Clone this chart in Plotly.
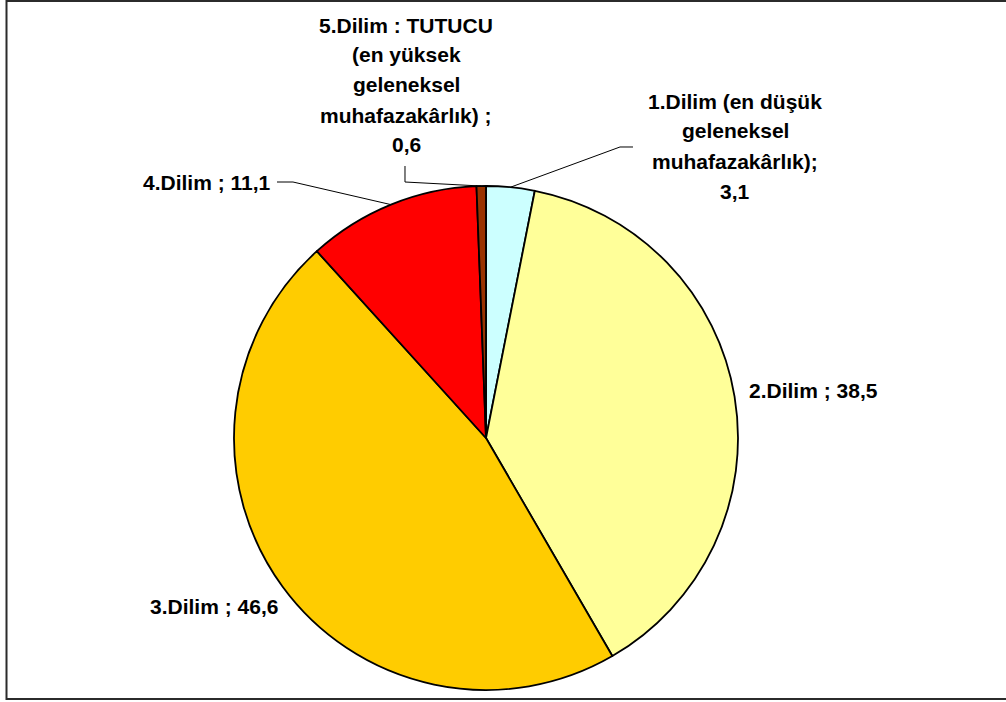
import math
import plotly.graph_objects as go

# Shares of each slice (percent), clockwise from 12 o'clock
slices = ["1.Dilim", "2.Dilim", "3.Dilim", "4.Dilim", "5.Dilim"]
values = [3.1, 38.5, 46.6, 11.1, 0.6]
colors = ["#CCFFFF", "#FFFF99", "#FFCC00", "#FF0000", "#993300"]

# Label text lines for each slice
label_lines = [
    ["1.Dilim (en düşük", "geleneksel", "muhafazakârlık);", "3,1"],
    ["2.Dilim ; 38,5"],
    ["3.Dilim ; 46,6"],
    ["4.Dilim ; 11,1"],
    ["5.Dilim : TUTUCU", "(en yüksek", "geleneksel", "muhafazakârlık) ;", "0,6"],
]

W, H = 1006, 702
CX, CY, R = 486, 438, 252          # pie centre and radius in pixels
FONT = "Liberation Sans, Arial, sans-serif"
LINE_STEP = 30                      # pixels between label lines


def px(x):
    return x / W


def py(y):
    return 1 - y / H


fig = go.Figure(
    go.Pie(
        labels=slices,
        values=values,
        sort=False,
        direction="clockwise",
        rotation=0,
        textinfo="none",
        hoverinfo="label+value",
        marker=dict(colors=colors, line=dict(color="black", width=1.8)),
        domain=dict(x=[px(CX - R), px(CX + R)], y=[py(CY + R), py(CY - R)]),
        showlegend=False,
    )
)

# Mid-angle of each slice, measured clockwise from the top
total = sum(values)
mid_angle = []
acc = 0.0
for v in values:
    mid_angle.append(2 * math.pi * (acc + v / 2) / total)
    acc += v


def rim_point(i):
    a = mid_angle[i]
    return CX + R * math.sin(a), CY - R * math.cos(a)


# Label placement: (x, y of first line, x-anchor)
label_pos = {
    0: (735, 101, "center"),
    1: (747, 391, "left"),
    2: (148, 606, "left"),
    3: (273, 183, "right"),
    4: (406, 25, "center"),
}

annotations = []
for i, lines in enumerate(label_lines):
    lx, ly, anchor = label_pos[i]
    for k, t in enumerate(lines):
        annotations.append(
            dict(
                x=px(lx), y=py(ly + k * LINE_STEP), xref="paper", yref="paper",
                text=f"<b>{t}</b>", showarrow=False, xanchor=anchor, yanchor="middle",
                font=dict(family=FONT, size=21, color="black"),
            )
        )

# Leader lines: bend points for slices 1, 4 and 5
leader_bends = {
    0: [(620, 147), (633, 147)],
    3: [(293, 182), (277, 182)],
    4: [(405, 182), (405, 166)],
}

shapes = []
for i, bends in leader_bends.items():
    pts = [rim_point(i)] + bends
    path = "M " + " L ".join(f"{px(x):.5f},{py(y):.5f}" for x, y in pts)
    shapes.append(
        dict(type="path", path=path, xref="paper", yref="paper",
             line=dict(color="black", width=1))
    )

# Chart-area frame
shapes.append(
    dict(type="rect", xref="paper", yref="paper",
         x0=px(6.5), x1=1.02, y0=py(699), y1=py(1),
         line=dict(color="#2b2b2b", width=2), fillcolor="rgba(0,0,0,0)")
)

fig.update_layout(
    width=W, height=H,
    margin=dict(l=0, r=0, t=0, b=0),
    paper_bgcolor="white", plot_bgcolor="white",
    annotations=annotations,
    shapes=shapes,
)

fig.write_html("out.html", config={"displayModeBar": False})
